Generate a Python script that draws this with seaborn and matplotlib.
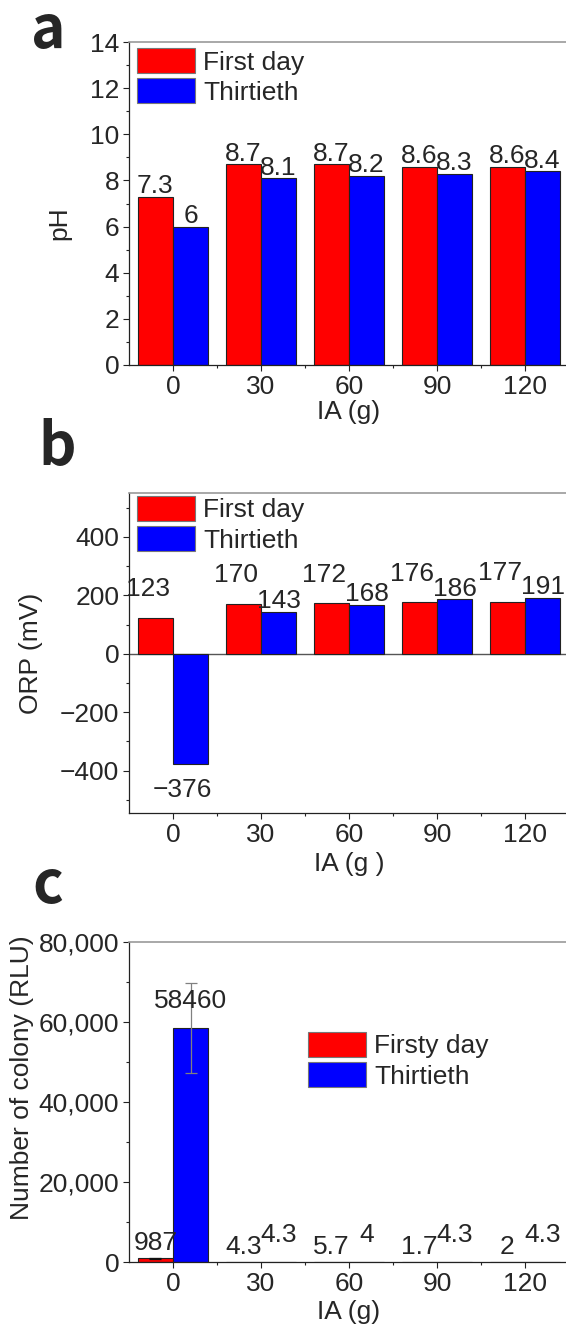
import numpy as np
import pandas as pd
import matplotlib
matplotlib.use("Agg")
import matplotlib.pyplot as plt
import matplotlib.ticker as mticker
from matplotlib.patches import Patch
import seaborn as sns

# data
doses = ["0", "30", "60", "90", "120"]
days = ["First day", "Thirtieth"]

ph_first = [7.3, 8.7, 8.7, 8.6, 8.6]
ph_thirtieth = [6, 8.1, 8.2, 8.3, 8.4]

orp_first = [123, 170, 172, 176, 177]
orp_thirtieth = [-376, 143, 168, 186, 191]

colony_first = [987, 4.3, 5.7, 1.7, 2]
colony_thirtieth = [58460, 4.3, 4, 4.3, 4.3]
colony_first_err = [120, 0, 0, 0, 0]
colony_thirtieth_err = [11200, 0, 0, 0, 0]

colors = {"First day": "#ff0000", "Thirtieth": "#0000ff"}


def make_frame(first, thirtieth):
    rows = []
    for d, a, b in zip(doses, first, thirtieth):
        rows.append({"IA": d, "value": a, "day": "First day"})
        rows.append({"IA": d, "value": b, "day": "Thirtieth"})
    return pd.DataFrame(rows)


def fmt_val(v):
    s = f"{v:g}"
    return s.replace("-", "\u2212")


sns.set_style("ticks")
plt.rcParams["font.family"] = ["Liberation Sans", "DejaVu Sans"]
plt.rcParams["axes.unicode_minus"] = True

FS = 19
W, H = 566, 1327
fig = plt.figure(figsize=(W / 100, H / 100), dpi=100)


def add_axes(top, bottom):
    left, right = 129, 569
    return fig.add_axes([left / W, 1 - bottom / H, (right - left) / W, (bottom - top) / H])


def style_axes(ax):
    ax.set_xlim(-0.5, 4.5)
    ax.set_xticks(np.arange(0.5, 4.5, 1), minor=True)
    ax.tick_params(axis="both", which="major", direction="out", length=4, width=0.8,
                   labelsize=FS, color="#222")
    ax.tick_params(axis="y", which="major", pad=3)
    ax.tick_params(axis="x", which="major", pad=3)
    ax.tick_params(axis="both", which="minor", direction="out", length=2.3, width=0.8, color="#222")
    for side in ["left", "bottom"]:
        ax.spines[side].set_color("#222")
        ax.spines[side].set_linewidth(0.9)
    for side in ["top", "right"]:
        ax.spines[side].set_color("#999999")
        ax.spines[side].set_linewidth(1.2)


def draw_bars(ax, df):
    sns.barplot(data=df, x="IA", y="value", hue="day", order=doses, hue_order=days,
                palette=colors, edgecolor="#222", linewidth=0.8, errorbar=None,
                legend=False, saturation=1, ax=ax)


def add_labels(ax, values_by_day, offsets):
    for cont, vals, (dx, dy) in zip(ax.containers, values_by_day, offsets):
        for bar, v in zip(cont, vals):
            xc = bar.get_x() + bar.get_width() / 2
            if v < 0:
                ax.annotate(fmt_val(v), (xc, v), xytext=(dx - 6, -10), textcoords="offset points",
                            ha="center", va="top", fontsize=FS)
            else:
                ax.annotate(fmt_val(v), (xc, v), xytext=(dx, dy), textcoords="offset points",
                            ha="center", va="bottom", fontsize=FS)


def add_legend(ax, labels, anchor):
    handles = [Patch(facecolor=colors[d], edgecolor="#777", linewidth=0.8) for d in days]
    ax.legend(handles, labels, loc="upper left", bbox_to_anchor=anchor, frameon=False,
              fontsize=FS, handlelength=2.2, handleheight=1.08, labelspacing=0.14,
              handletextpad=0.3, borderpad=0, borderaxespad=0)


# panel a: pH
ax1 = add_axes(42, 365)
draw_bars(ax1, make_frame(ph_first, ph_thirtieth))
style_axes(ax1)
ax1.set_ylim(0, 14)
ax1.set_yticks(np.arange(0, 15, 2))
ax1.set_yticks(np.arange(1, 14, 2), minor=True)
add_labels(ax1, [ph_first, ph_thirtieth], [(0, -1), (0, -1)])
add_legend(ax1, days, (0.018, 0.981))
ax1.set_xlabel("IA (g)", fontsize=FS, labelpad=1)
ax1.set_ylabel("pH", fontsize=FS)
ax1.yaxis.set_label_coords(-0.13, 0.44)

# panel b: ORP
ax2 = add_axes(493, 813)
draw_bars(ax2, make_frame(orp_first, orp_thirtieth))
style_axes(ax2)
ax2.axhline(0, color="#555", linewidth=1.0, zorder=0.5)
ax2.set_ylim(-545, 550)
ax2.set_yticks(np.arange(-400, 401, 200))
ax2.set_yticks(np.arange(-500, 501, 200), minor=True)
add_labels(ax2, [orp_first, orp_thirtieth], [(-5, 12), (0, -1)])
add_legend(ax2, days, (0.018, 0.991))
ax2.set_xlabel("IA (g )", fontsize=FS, labelpad=4)
ax2.set_ylabel("ORP (mV)", fontsize=FS)
ax2.yaxis.set_label_coords(-0.195, 0.5)

# panel c: colony count
ax3 = add_axes(942, 1262)
draw_bars(ax3, make_frame(colony_first, colony_thirtieth))
style_axes(ax3)
ax3.set_ylim(0, 80000)
ax3.set_yticks(np.arange(0, 80001, 20000))
ax3.set_yticks(np.arange(10000, 80000, 20000), minor=True)
ax3.yaxis.set_major_formatter(mticker.StrMethodFormatter("{x:,.0f}"))
for cont, vals, errs, ec in zip(ax3.containers, [colony_first, colony_thirtieth],
                                [colony_first_err, colony_thirtieth_err], ["#111", "#808080"]):
    xs = [b.get_x() + b.get_width() / 2 for b in cont]
    for xc, v, e in zip(xs, vals, errs):
        if e > 0:
            ax3.errorbar(xc, v, yerr=e, fmt="none", ecolor=ec, elinewidth=0.9, capsize=4, capthick=0.9)
add_labels(ax3, [colony_first, colony_thirtieth], [(0, 2), (0, 11)])
add_legend(ax3, ["Firsty day", "Thirtieth"], (0.407, 0.719))
ax3.set_xlabel("IA (g)", fontsize=FS, labelpad=3)
ax3.set_ylabel("Number of colony (RLU)", fontsize=FS)
ax3.yaxis.set_label_coords(-0.215, 0.575)

# panel letters
for letter, x, y in [("a", 31, 48), ("b", 38, 465), ("c", 32, 903)]:
    fig.text(x / W, 1 - y / H, letter, fontsize=42, fontweight="bold",
             family=["Noto Sans CJK SC", "DejaVu Sans"], ha="left", va="baseline")

fig.savefig("out.png", dpi=100)
